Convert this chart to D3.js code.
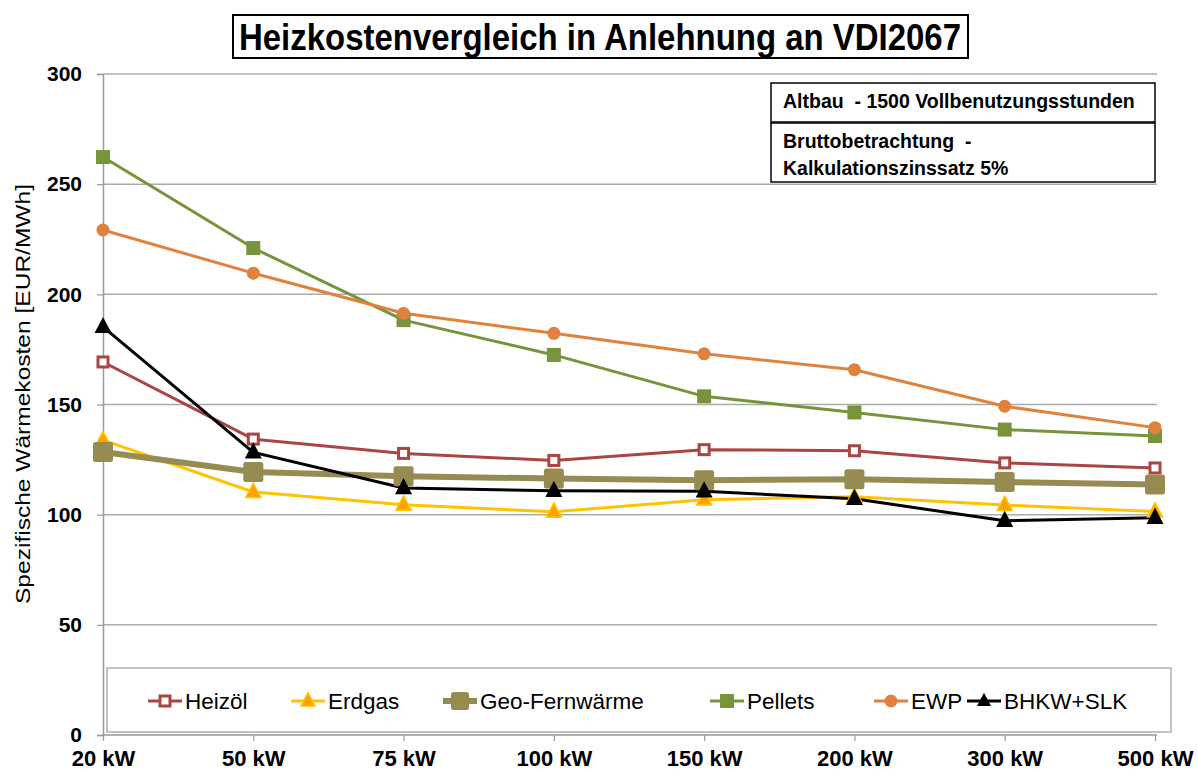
<!DOCTYPE html>
<html>
<head>
<meta charset="utf-8">
<script src="https://cdn.jsdelivr.net/npm/d3@7"></script>
<style>
  html, body { margin: 0; padding: 0; background: #fff; }
  svg { display: block; font-family: Arial, "Liberation Sans", sans-serif; }
</style>
</head>
<body>
<svg id="chart" width="1198" height="771"></svg>
<script>
// Leistungsklassen (x-Achse)
const categories = ["20 kW", "50 kW", "75 kW", "100 kW", "150 kW", "200 kW", "300 kW", "500 kW"];
const yTicks = [0, 50, 100, 150, 200, 250, 300];

// Spezifische Wärmekosten in EUR/MWh je Variante
const heizoel   = [169.3, 134.3, 127.8, 124.6, 129.5, 129.0, 123.5, 121.2];
const erdgas    = [133.8, 110.3, 104.5, 101.3, 106.8, 108.1, 104.4, 101.4];
const geoFern   = [128.4, 119.4, 117.4, 116.4, 115.6, 116.1, 114.8, 113.7];
const pellets   = [262.3, 221.0, 188.3, 172.5, 153.7, 146.4, 138.6, 135.7];
const ewp       = [229.2, 209.6, 191.4, 182.3, 173.0, 165.8, 149.2, 139.5];
const bhkwSlk   = [185.2, 128.3, 112.1, 110.8, 110.6, 107.2, 97.2, 98.6];

const series = [
  { name: "Heizöl", values: heizoel, color: "#A94542", width: 3, marker: "hollowSquare", size: 13 },
  { name: "Erdgas", values: erdgas, color: "#FFC400", width: 3, marker: "triangle", size: 15, fill: "#FFA200" },
  { name: "Geo-Fernwärme", values: geoFern, color: "#968C52", width: 6, marker: "bigSquare", size: 20 },
  { name: "Pellets", values: pellets, color: "#77933C", width: 3, marker: "square", size: 14 },
  { name: "EWP", values: ewp, color: "#E0823D", width: 3, marker: "circle", size: 13 },
  { name: "BHKW+SLK", values: bhkwSlk, color: "#000000", width: 3, marker: "triangle", size: 17, fill: "#000000" }
];

const svg = d3.select("#chart");
const plotLeft = 103, plotRight = 1155, plotTop = 74, plotBottom = 735;

const x = d3.scalePoint().domain(categories).range([plotLeft, plotRight]).padding(0);
const y = d3.scaleLinear().domain([0, 300]).range([plotBottom, plotTop]);

// Gitterlinien
svg.append("g")
  .selectAll("line")
  .data(yTicks.filter(d => d > 0))
  .join("line")
  .attr("x1", plotLeft).attr("x2", plotRight + 2)
  .attr("y1", d => y(d)).attr("y2", d => y(d))
  .attr("stroke", "#ababab").attr("stroke-width", 1.5);

// y-Achse
const yAxis = svg.append("g")
  .attr("transform", `translate(${plotLeft},0)`)
  .call(d3.axisLeft(y).tickValues(yTicks).tickSize(6).tickPadding(15));
yAxis.select(".domain").attr("stroke", "#9a9a9a").attr("stroke-width", 1.5);
yAxis.selectAll(".tick line").attr("stroke", "#9a9a9a").attr("stroke-width", 1.2);
yAxis.selectAll(".tick text")
  .attr("font-size", 21).attr("font-weight", "bold").attr("fill", "#000")
  .attr("font-family", "Arial, 'Liberation Sans', sans-serif");

// x-Achse
const xAxis = svg.append("g")
  .attr("transform", `translate(0,${plotBottom})`)
  .call(d3.axisBottom(x).tickSize(6).tickPadding(9));
xAxis.select(".domain").attr("stroke", "#9a9a9a").attr("stroke-width", 1.5)
  .attr("d", `M${plotLeft},0H${plotRight + 2}`);
xAxis.selectAll(".tick line").attr("stroke", "#9a9a9a").attr("stroke-width", 1.2);
xAxis.selectAll(".tick text")
  .attr("font-size", 22).attr("font-weight", "bold").attr("fill", "#000")
  .attr("font-family", "Arial, 'Liberation Sans', sans-serif");

// Achsentitel
svg.append("text")
  .attr("transform", `translate(30,394) rotate(-90)`)
  .attr("text-anchor", "middle")
  .attr("font-size", 21)
  .attr("fill", "#000")
  .attr("textLength", 420).attr("lengthAdjust", "spacingAndGlyphs")
  .text("Spezifische Wärmekosten [EUR/MWh]");

// Marker-Zeichner
function drawMarker(g, s, cx, cy) {
  const r = s.size / 2;
  if (s.marker === "square") {
    g.append("rect").attr("x", cx - r).attr("y", cy - r).attr("width", s.size).attr("height", s.size)
      .attr("fill", s.color);
  } else if (s.marker === "bigSquare") {
    g.append("rect").attr("x", cx - r).attr("y", cy - r).attr("width", s.size).attr("height", s.size)
      .attr("rx", 2.5).attr("fill", s.color);
  } else if (s.marker === "hollowSquare") {
    g.append("rect").attr("x", cx - r + 1.5).attr("y", cy - r + 1.5).attr("width", s.size - 3).attr("height", s.size - 3)
      .attr("fill", "#fff").attr("stroke", s.color).attr("stroke-width", 3);
  } else if (s.marker === "circle") {
    g.append("circle").attr("cx", cx).attr("cy", cy).attr("r", r).attr("fill", s.color);
  } else if (s.marker === "triangle") {
    const h = s.size * 0.95;
    const pts = [[cx, cy - h * 0.62], [cx + r, cy + h * 0.38], [cx - r, cy + h * 0.38]];
    g.append("path").attr("d", d3.line()(pts) + "Z")
      .attr("fill", s.fill).attr("stroke", s.color).attr("stroke-width", s.name === "Erdgas" ? 1.5 : 0)
      .attr("stroke-linejoin", "miter");
  }
}

// Linien & Marker
const plot = svg.append("g");
const line = d3.line().x((d, i) => x(categories[i])).y(d => y(d));
series.forEach(s => {
  plot.append("path").datum(s.values).attr("d", line)
    .attr("fill", "none").attr("stroke", s.color).attr("stroke-width", s.width)
    .attr("stroke-linejoin", "round");
});
series.forEach(s => {
  const g = plot.append("g");
  s.values.forEach((v, i) => drawMarker(g, s, x(categories[i]), y(v)));
});

// Legende
const legend = svg.append("g");
legend.append("rect").attr("x", 107).attr("y", 668).attr("width", 1064).attr("height", 64)
  .attr("fill", "#fff").attr("stroke", "#9a9a9a").attr("stroke-width", 1.2);
const legendTextX = [185, 328, 480, 747, 911, 1004];
series.forEach((s, i) => {
  const tx = legendTextX[i], ly = 701;
  const lx = tx - 37;
  const g = legend.append("g");
  g.append("line").attr("x1", lx).attr("x2", lx + 34).attr("y1", ly).attr("y2", ly)
    .attr("stroke", s.color).attr("stroke-width", s.width);
  const ms = Object.assign({}, s, { size: s.marker === "bigSquare" ? 18 : Math.min(s.size, 14) });
  drawMarker(g, ms, lx + 17, ly);
  g.append("text").attr("x", tx).attr("y", ly + 8)
    .attr("font-size", 22.5).attr("fill", "#000").text(s.name);
});

// Hinweisboxen
const note = svg.append("g");
note.append("rect").attr("x", 771).attr("y", 83).attr("width", 384).attr("height", 39)
  .attr("fill", "#fff").attr("stroke", "#000").attr("stroke-width", 1.5);
note.append("rect").attr("x", 771).attr("y", 123).attr("width", 384).attr("height", 59)
  .attr("fill", "#fff").attr("stroke", "#000").attr("stroke-width", 1.5);
note.append("text").attr("x", 783).attr("y", 108).attr("font-size", 19.5).attr("font-weight", "bold")
  .attr("xml:space", "preserve")
  .text("Altbau  - 1500 Vollbenutzungsstunden");
note.append("text").attr("x", 783).attr("y", 148).attr("font-size", 19.5).attr("font-weight", "bold")
  .attr("xml:space", "preserve")
  .text("Bruttobetrachtung  -");
note.append("text").attr("x", 783).attr("y", 175).attr("font-size", 19.5).attr("font-weight", "bold")
  .text("Kalkulationszinssatz 5%");

// Diagrammtitel
const title = svg.append("g");
title.append("rect").attr("x", 233).attr("y", 15).attr("width", 735).attr("height", 43)
  .attr("fill", "#fff").attr("stroke", "#000").attr("stroke-width", 2);
title.append("text").attr("x", 600).attr("y", 50).attr("text-anchor", "middle")
  .attr("font-size", 36).attr("font-weight", "bold")
  .attr("textLength", 722).attr("lengthAdjust", "spacingAndGlyphs")
  .text("Heizkostenvergleich in Anlehnung an VDI2067");
</script>
</body>
</html>
